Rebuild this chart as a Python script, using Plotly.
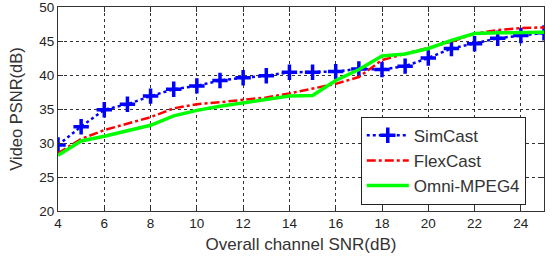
import plotly.graph_objects as go

snr = [4, 5, 6, 7, 8, 9, 10, 11, 12, 13, 14, 15, 16, 17, 18, 19, 20, 21, 22, 23, 24, 25]
simcast = [29.7, 32.4, 34.9, 35.7, 36.9, 37.9, 38.4, 39.2, 39.6, 39.9, 40.4, 40.4, 40.5, 40.9, 40.8, 41.3, 42.5, 43.9, 44.6, 45.4, 45.8, 46.2]
flexcast = [28.5, 30.6, 31.9, 32.9, 33.8, 35.1, 35.7, 36.0, 36.3, 36.7, 37.3, 38.0, 38.7, 39.7, 42.2, 43.1, 44.0, 44.9, 46.1, 46.6, 46.9, 47.0]
omni = [28.2, 30.3, 31.0, 31.8, 32.6, 34.0, 34.8, 35.4, 35.9, 36.4, 36.9, 37.0, 39.2, 40.8, 42.8, 43.1, 43.9, 45.1, 46.1, 46.2, 46.3, 46.3]

x_ticks = [4, 6, 8, 10, 12, 14, 16, 18, 20, 22, 24]
y_ticks = [20, 25, 30, 35, 40, 45, 50]

fig = go.Figure()
fig.add_trace(go.Scatter(
    x=snr, y=simcast, name="SimCast", mode="lines+markers",
    line=dict(color="#0000ff", width=2.5, dash="dot"),
    marker=dict(symbol="cross-thin", size=11, line=dict(color="#0000ff", width=3.5), color="#0000ff"),
))
fig.add_trace(go.Scatter(
    x=snr, y=flexcast, name="FlexCast", mode="lines",
    line=dict(color="#ff0000", width=2.5, dash="dashdot"),
))
fig.add_trace(go.Scatter(
    x=snr, y=omni, name="Omni-MPEG4", mode="lines",
    line=dict(color="#00ff00", width=3.5),
))

font = "Liberation Sans, Arial, sans-serif"
fig.update_layout(
    width=559, height=266,
    margin=dict(l=58, r=15, t=7, b=55),
    paper_bgcolor="white", plot_bgcolor="white",
    font=dict(family=font, size=13.5, color="#222"),
    showlegend=True,
    legend=dict(
        x=0.623, y=0.462, xanchor="left", yanchor="top",
        bgcolor="white", bordercolor="#222", borderwidth=1,
        font=dict(family=font, size=17, color="#333"),
        tracegroupgap=0, itemwidth=42,
    ),
)
fig.update_xaxes(
    range=[4, 25], tickvals=x_ticks, ticktext=[str(v) for v in x_ticks],
    showgrid=True, gridcolor="#333", griddash="dot", gridwidth=1,
    showline=True, linecolor="#333", linewidth=1, mirror="ticks",
    ticks="inside", ticklen=5, tickcolor="#333",
    zeroline=False, ticklabeloverflow="allow", automargin=False,
    title=dict(text="Overall channel SNR(dB)", font=dict(family=font, size=17, color="#333"), standoff=7),
)
fig.update_yaxes(
    range=[20, 50], tickvals=y_ticks, ticktext=[str(v) for v in y_ticks],
    showgrid=True, gridcolor="#333", griddash="dot", gridwidth=1,
    showline=True, linecolor="#333", linewidth=1, mirror="ticks",
    ticks="inside", ticklen=5, tickcolor="#333",
    zeroline=False, ticklabeloverflow="allow", automargin=False,
    title=dict(text="Video PSNR(dB)", font=dict(family=font, size=16.5, color="#333"), standoff=12),
)

fig.write_html(
    "out.html",
    config={"displayModeBar": False},
    post_script="document.body.style.margin='0';document.body.style.padding='0';",
)
